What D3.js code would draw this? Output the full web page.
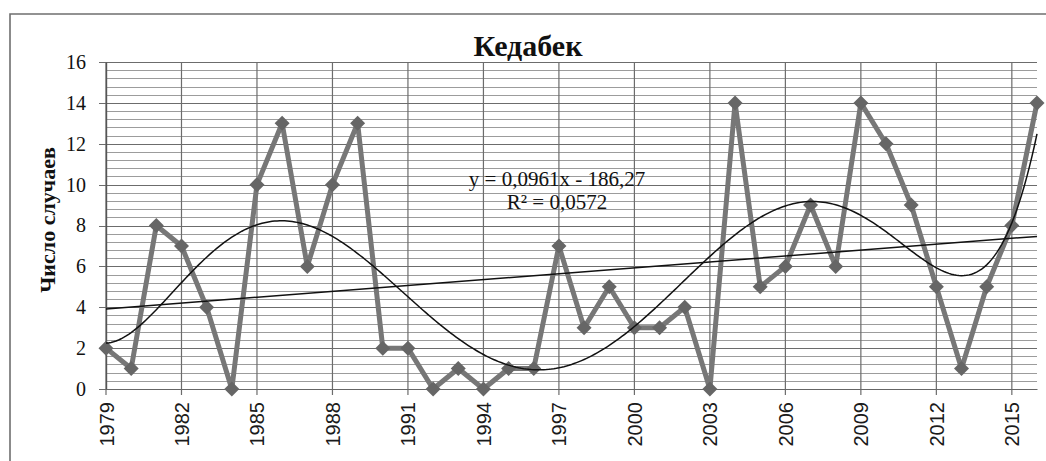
<!DOCTYPE html>
<html>
<head>
<meta charset="utf-8">
<script src="https://cdn.jsdelivr.net/npm/d3@7"></script>
<style>
  body { margin: 0; background: #fff; }
  svg { display: block; }
</style>
</head>
<body>
<svg id="chart" width="1046" height="461"></svg>
<script>
// Annual number of cases, Kedabek station, 1979–2016
const years = [1979, 1980, 1981, 1982, 1983, 1984, 1985, 1986, 1987, 1988,
               1989, 1990, 1991, 1992, 1993, 1994, 1995, 1996, 1997, 1998,
               1999, 2000, 2001, 2002, 2003, 2004, 2005, 2006, 2007, 2008,
               2009, 2010, 2011, 2012, 2013, 2014, 2015, 2016];
const cases = [2, 1, 8, 7, 4, 0, 10, 13, 6, 10,
               13, 2, 2, 0, 1, 0, 1, 1, 7, 3,
               5, 3, 3, 4, 0, 14, 5, 6, 9, 6,
               14, 12, 9, 5, 1, 5, 8, 14];

const yTicks = [0, 2, 4, 6, 8, 10, 12, 14, 16];
const xTickYears = [1979, 1982, 1985, 1988, 1991, 1994, 1997, 2000, 2003, 2006, 2009, 2012, 2015];

// Linear trend as printed on the chart
const trendSlope = 0.0961;
const trendIntercept = -186.27;
const trendLabel = "y = 0,0961x - 186,27";
const r2Label = "R² = 0,0572";
const polyDegree = 6;

const title = "Кедабек";
const yTitle = "Число случаев";

const SERIF = "'Liberation Serif', 'Times New Roman', serif";
const SANS = "'Liberation Sans', Arial, sans-serif";

const svg = d3.select("#chart");
const plot = { left: 106, right: 1037, top: 62, bottom: 389 };

const x = d3.scaleLinear().domain([years[0], years[years.length - 1]]).range([plot.left, plot.right]);
const y = d3.scaleLinear().domain([0, 16]).range([plot.bottom, plot.top]);

// Outer frame of the chart
svg.append("path")
  .attr("d", "M10,470 L10,14 L1060,14")
  .attr("fill", "none").attr("stroke", "#6f6f6f").attr("stroke-width", 1.6);

// Minor horizontal gridlines every 0.4
const minor = d3.range(0, 16.001, 0.4);
svg.append("g").selectAll("line").data(minor).join("line")
  .attr("x1", plot.left).attr("x2", plot.right)
  .attr("y1", d => Math.round(y(d)) + 0.5).attr("y2", d => Math.round(y(d)) + 0.5)
  .attr("stroke", "#9c9c9c").attr("stroke-width", 1);

// Major horizontal gridlines
svg.append("g").selectAll("line").data(yTicks).join("line")
  .attr("x1", plot.left - 7).attr("x2", plot.right)
  .attr("y1", d => Math.round(y(d)) + 0.5).attr("y2", d => Math.round(y(d)) + 0.5)
  .attr("stroke", "#6c6c6c").attr("stroke-width", 1.2);

// Vertical gridlines at labelled years
svg.append("g").selectAll("line").data(xTickYears).join("line")
  .attr("x1", d => x(d)).attr("x2", d => x(d))
  .attr("y1", plot.top).attr("y2", plot.bottom + 6)
  .attr("stroke", "#6c6c6c").attr("stroke-width", 1.2);

// Y axis
const yAxis = d3.axisLeft(y).tickValues(yTicks).tickSize(0).tickPadding(20);
const gy = svg.append("g").attr("transform", `translate(${plot.left},0)`).call(yAxis);
gy.attr("font-family", null).attr("font-size", null);
gy.select(".domain").attr("stroke", "#555").attr("stroke-width", 1.4);
gy.selectAll("text")
  .style("font-family", SERIF)
  .style("font-size", "20px").attr("fill", "#111");

// X axis with rotated year labels
const xAxis = d3.axisBottom(x).tickValues(xTickYears).tickFormat(d3.format("d")).tickSize(0).tickPadding(0);
const gx = svg.append("g").attr("transform", `translate(0,${plot.bottom})`).call(xAxis);
gx.attr("font-family", null).attr("font-size", null);
gx.select(".domain").attr("stroke", "#666").attr("stroke-width", 1.2);
gx.selectAll("text")
  .style("font-family", SANS)
  .style("font-size", "20px").attr("fill", "#1a1a1a")
  .attr("transform", "rotate(-90)")
  .attr("text-anchor", "end")
  .attr("x", -13).attr("y", 0).attr("dy", "0.35em");

// Data series
const pts = years.map((yr, i) => [yr, cases[i]]);
svg.append("path").datum(pts)
  .attr("d", d3.line().x(d => x(d[0])).y(d => y(d[1])))
  .attr("fill", "none").attr("stroke", "#777").attr("stroke-width", 5)
  .attr("stroke-linejoin", "round");

const r = 7.5;
svg.append("g").selectAll("path").data(pts).join("path")
  .attr("transform", d => `translate(${x(d[0])},${y(d[1])})`)
  .attr("d", `M0,${-r}L${r},0L0,${r}L${-r},0Z`)
  .attr("fill", "#666");

// Least-squares polynomial fit (x centred and scaled for stability)
function polyfit(xs, ys, deg) {
  const n = deg + 1;
  const A = Array.from({ length: n }, () => new Array(n + 1).fill(0));
  xs.forEach((xv, k) => {
    for (let i = 0; i < n; i++) {
      for (let j = 0; j < n; j++) A[i][j] += Math.pow(xv, i + j);
      A[i][n] += ys[k] * Math.pow(xv, i);
    }
  });
  for (let c = 0; c < n; c++) {
    let p = c;
    for (let rr = c + 1; rr < n; rr++) if (Math.abs(A[rr][c]) > Math.abs(A[p][c])) p = rr;
    [A[c], A[p]] = [A[p], A[c]];
    for (let rr = 0; rr < n; rr++) {
      if (rr === c) continue;
      const f = A[rr][c] / A[c][c];
      for (let k = c; k <= n; k++) A[rr][k] -= f * A[c][k];
    }
  }
  return A.map((row, i) => row[n] / row[i]);
}
const mid = (years[0] + years[years.length - 1]) / 2;
const half = (years[years.length - 1] - years[0]) / 2;
const norm = yr => (yr - mid) / half;
const coef = polyfit(years.map(norm), cases, polyDegree);
const polyAt = yr => coef.reduce((s, c, i) => s + c * Math.pow(norm(yr), i), 0);

const fine = d3.range(years[0], years[years.length - 1] + 0.001, 0.1);
svg.append("path").datum(fine)
  .attr("d", d3.line().x(d => x(d)).y(d => y(polyAt(d))))
  .attr("fill", "none").attr("stroke", "#111").attr("stroke-width", 1.5);

// Linear trend
const xEnds = [years[0], years[years.length - 1]];
svg.append("path").datum(xEnds)
  .attr("d", d3.line().x(d => x(d)).y(d => y(trendSlope * d + trendIntercept)))
  .attr("fill", "none").attr("stroke", "#111").attr("stroke-width", 1.5);

// Trend equation
svg.append("text").attr("x", 557).attr("y", 186).attr("text-anchor", "middle")
  .style("font-family", SERIF).style("font-size", "21px").attr("fill", "#111").text(trendLabel);
svg.append("text").attr("x", 557).attr("y", 209).attr("text-anchor", "middle")
  .style("font-family", SERIF).style("font-size", "21px").attr("fill", "#111").text(r2Label);

// Title
svg.append("text").attr("x", 528).attr("y", 56).attr("text-anchor", "middle")
  .style("font-family", SERIF).style("font-weight", "bold").style("font-size", "30px")
  .attr("fill", "#111").text(title);

// Y axis title
svg.append("text")
  .attr("transform", "translate(55,220) rotate(-90)")
  .attr("text-anchor", "middle")
  .style("font-family", SERIF).style("font-weight", "bold").style("font-size", "22px")
  .attr("fill", "#111").text(yTitle);
</script>
</body>
</html>
